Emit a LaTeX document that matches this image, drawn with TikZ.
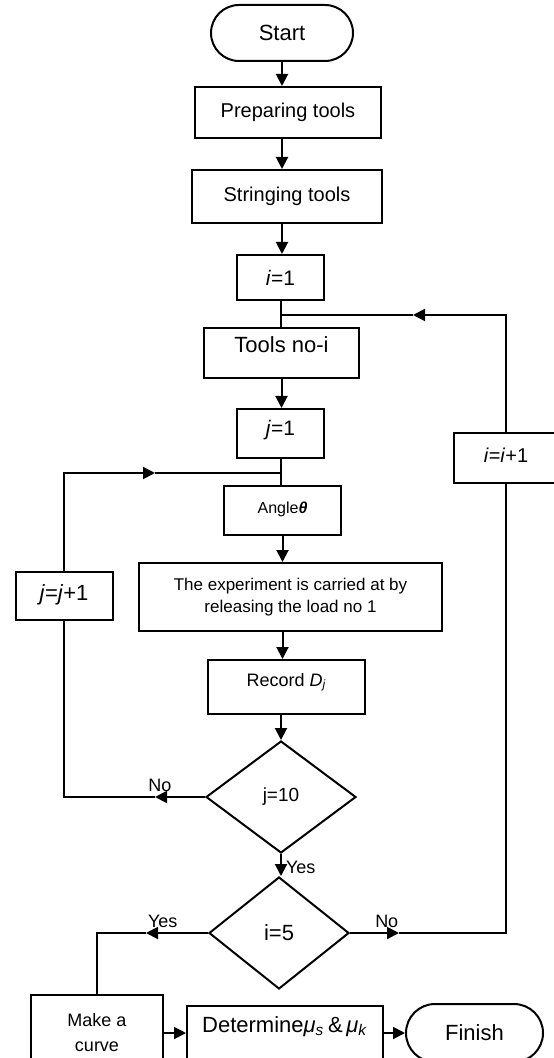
\documentclass[tikz,border=0pt]{standalone}
\usepackage{fontspec}
\setmainfont{Liberation Sans}
\usetikzlibrary{shapes.geometric, shapes.misc, arrows.meta}

\newcommand{\fsz}[2]{\fontsize{#1}{#2}\selectfont}

\begin{document}
\begin{tikzpicture}[x=0.5pt, y=-0.5pt, >={Triangle[length=6pt,width=6pt]}, line width=1pt]
        \tikzstyle{box}=[draw, rectangle, inner sep=0pt, align=center, font=\fsz{10}{12}]
        \tikzstyle{term}=[draw, rounded rectangle, inner sep=0pt, font=\fsz{11}{13}]
        \tikzstyle{decision}=[draw, diamond, inner sep=0pt]
        \tikzstyle{lbl}=[font=\fsz{9}{11}, inner sep=2pt]
        \tikzset{raised/.style={text height=0.72em, text depth=#1}}
        \useasboundingbox (0,0) rectangle (553,1058);

        % main column
        \node[term, minimum width=71pt, minimum height=28pt] (start) at (282,33) {Start};
        \node[box, minimum width=93pt, minimum height=25.5pt] (prep) at (288,112.5) {Preparing tools};
        \node[box, minimum width=95pt, minimum height=26.5pt] (string) at (287,196.5) {Stringing tools};
        \node[box, minimum width=43.5pt, minimum height=22.5pt, font=\fsz{10.5}{12}] (i1) at (280.5,277.5) {\textit{i}=1};
        \node[box, minimum width=77.5pt, minimum height=25pt, font=\fsz{11}{13}, raised=8pt] (tools) at (281.5,353) {Tools no-i};
        \node[box, minimum width=43.5pt, minimum height=24.5pt, font=\fsz{10.5}{12}, raised=5pt] (j1) at (280.5,433.5) {\textit{j}=1};
        \node[box, minimum width=58.5pt, minimum height=24.5pt, font=\fsz{8}{10}, raised=4pt] (angle) at (282.5,510.5) {Angle\textbf{\textit{θ}}};
        \node[box, minimum width=151.5pt, minimum height=34pt, font=\fsz{8.5}{11}] (exp) at (290.5,597) {The experiment is carried at by\\releasing the load no 1};
        \node[box, minimum width=78.5pt, minimum height=27pt, font=\fsz{9}{11}, raised=8pt] (record) at (286.5,687) {Record \textit{D}\textsubscript{\textit{j}}};
        \node[decision, minimum width=75pt, minimum height=56pt, font=\fsz{9.5}{11}] (j10) at (281,797) {j=10};
        \node[decision, minimum width=70pt, minimum height=56pt, font=\fsz{11}{13}] (i5) at (279,933) {i=5};

        % loop boxes
        \node[box, minimum width=52pt, minimum height=25pt, raised=3pt] (ii1) at (506,458) {\textit{i}=\textit{i}+1};
        \node[box, minimum width=48.5pt, minimum height=24pt, font=\fsz{11}{13}, raised=3pt] (jj1) at (64,596) {\textit{j}=\textit{j}+1};

        % bottom row
        \node[box, minimum width=66pt, minimum height=38pt, font=\fsz{9}{12.5}] (curve) at (97,1033) {Make a\\curve};
        \node[box, minimum width=98pt, minimum height=27pt, font=\fsz{11}{13}, raised=8pt] (det) at (285,1033) {Determine\textit{μ}\textsubscript{\textit{s}}\,\&\,\textit{μ}\textsubscript{\textit{k}}};
        \node[term, minimum width=68.5pt, minimum height=29pt] (finish) at (474.5,1033) {Finish};

        % joints and arrow points
        \coordinate (ijoin) at (281,315);
        \coordinate (iarr) at (413,315);
        \coordinate (jjoin) at (281,473);
        \coordinate (jarr) at (155,473);
        \coordinate (noarr) at (155,797);
        \coordinate (noarrb) at (399,933);
        \coordinate (yesarr) at (146,933);

        \draw[->] (start.south) -- (start.south |- prep.north);
        \draw[->] (start |- prep.south) -- (start |- string.north);
        \draw[->] (start |- string.south) -- (start |- i1.north);
        \draw (i1.south) -- (i1.south |- tools.north);
        \draw[->] (tools.south) -- (tools.south |- j1.north);
        \draw (j1.south) -- (j1.south |- angle.north);
        \draw[->] (angle.south) -- (angle.south |- exp.north);
        \draw[->] (angle.south |- exp.south) -- (angle.south |- record.north);
        \draw[->] (j10.north |- record.south) -- (j10.north);
        \draw[->] (j10.south) -- (j10.south |- i5.north) node[lbl, right, pos=0.6] {Yes};

        % i loop
        \draw[->] (ii1.north) |- (iarr);
        \draw (iarr) -- (ijoin);
        \draw[->] (i5.east) -- (noarrb) node[lbl, above, pos=0.75] {No};
        \draw (noarrb) -| (ii1.south);

        % j loop
        \draw[->] (jj1.north) |- (jarr);
        \draw (jarr) -- (jjoin);
        \draw[->] (j10.west) -- (noarr) node[lbl, above, pos=0.9] {No};
        \draw (noarr) -| (jj1.south);

        % finish
        \draw[->] (i5.west) -- (yesarr) node[lbl, above, pos=0.73] {Yes};
        \draw (yesarr) -| (curve.north);
        \draw[->] (curve) -- (det);
        \draw[->] (det) -- (finish);
\end{tikzpicture}
\end{document}
